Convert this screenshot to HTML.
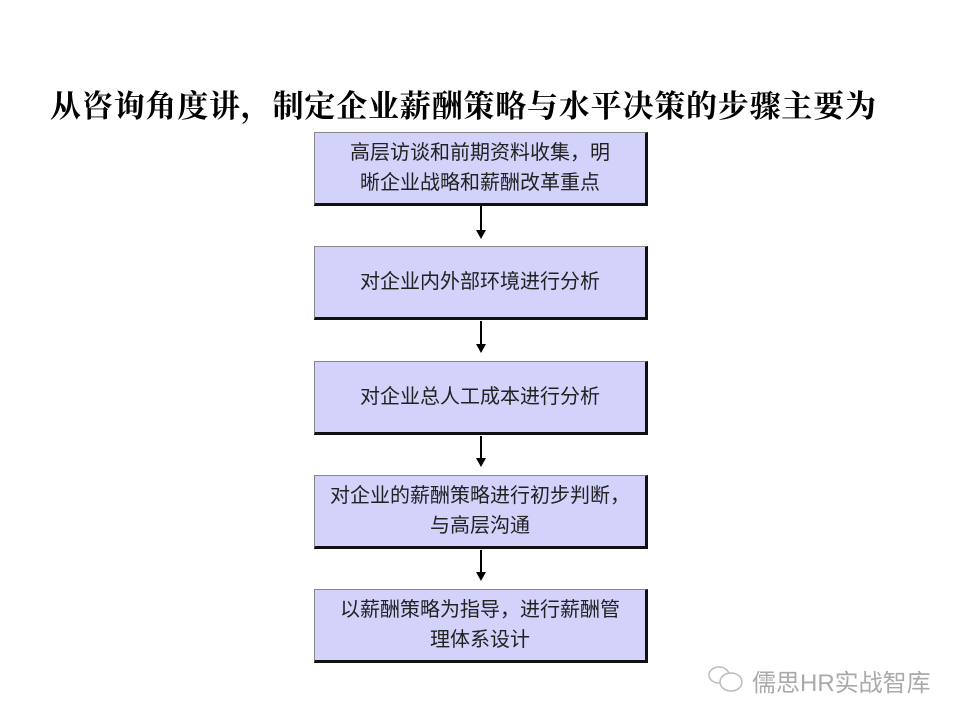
<!DOCTYPE html>
<html><head><meta charset="utf-8"><style>
body{margin:0;width:960px;height:720px;background:#fff;position:relative;overflow:hidden;font-family:"Liberation Sans","Noto Sans CJK SC",sans-serif}
.t{position:absolute;left:50px;top:81px;font-size:31px;font-weight:bold;font-family:"Liberation Serif","Noto Serif CJK SC",serif;color:#000;white-space:nowrap;letter-spacing:0.8px}
.b{position:absolute;left:314px;width:330px;height:70px;background:#d2d2fa;border-top:1px solid #888;border-left:1px solid #888;border-right:3px solid #111;border-bottom:3px solid #111;display:flex;align-items:center;justify-content:center;text-align:center;font-size:20px;color:#222;line-height:30px}
.l{position:absolute;left:480px;width:2px;background:#000}
.a{position:absolute;left:476px;width:0;height:0;border-left:5px solid transparent;border-right:5px solid transparent;border-top:9px solid #000}
.w{position:absolute;left:752px;top:663px;font-size:24px;color:#aaa;white-space:nowrap}
</style></head><body>
<div class="t">从咨询角度讲，制定企业薪酬策略与水平决策的步骤主要为</div>
<div class="b" style="top:132px">高层访谈和前期资料收集，明<br>晰企业战略和薪酬改革重点</div>
<div class="b" style="top:246px">对企业内外部环境进行分析</div>
<div class="b" style="top:361px">对企业总人工成本进行分析</div>
<div class="b" style="top:475px">对企业的薪酬策略进行初步判断，<br>与高层沟通</div>
<div class="b" style="top:589px">以薪酬策略为指导，进行薪酬管<br>理体系设计</div>
<div class="l" style="top:206px;height:26px"></div><div class="a" style="top:230px"></div>
<div class="l" style="top:321px;height:25px"></div><div class="a" style="top:344px"></div>
<div class="l" style="top:436px;height:24px"></div><div class="a" style="top:458px"></div>
<div class="l" style="top:550px;height:24px"></div><div class="a" style="top:572px"></div>
<svg style="position:absolute;left:706px;top:664px" width="40" height="30"><ellipse cx="13" cy="11" rx="10" ry="8" fill="none" stroke="#bbb" stroke-width="1.5"/><ellipse cx="25" cy="18" rx="11" ry="9" fill="#fff" stroke="#bbb" stroke-width="1.5"/></svg>
<div class="w">儒思HR实战智库</div>
</body></html>
